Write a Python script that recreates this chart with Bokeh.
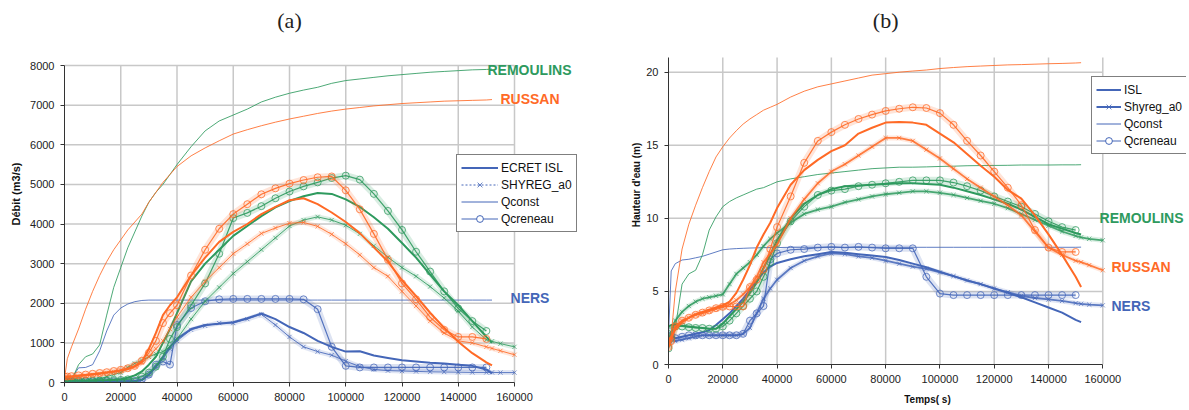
from bokeh.plotting import figure
from bokeh.layouts import row, column
from bokeh.models import Range1d, FixedTicker, BasicTickFormatter, Legend, LegendItem
from bokeh.core.properties import value
from bokeh.embed import file_html
from bokeh.resources import INLINE

N = float("nan")

# time grid (s)
T = [0, 1000, 2500, 5000, 7500, 10000, 12500, 15000, 17500, 20000, 22500, 25000, 27500,
     30000, 32500, 35000, 37500, 40000,
     45000, 50000, 55000, 60000, 65000, 70000, 75000, 80000, 85000, 90000, 95000, 100000,
     105000, 110000, 115000, 120000, 125000, 130000, 135000, 140000, 145000, 150000,
     152000, 155000, 160000]

X_TICKS = [0, 20000, 40000, 60000, 80000, 100000, 120000, 140000, 160000]
YA_TICKS = [0, 1000, 2000, 3000, 4000, 5000, 6000, 7000, 8000]
YB_TICKS = [0, 5, 10, 15, 20]

# ---------- panel (a) : Débit (m3/s) ----------
A_RUS_QCONST = [100, 600, 900, 1350, 1850, 2300, 2700, 3050, 3350, 3600, 3850, 4050, 4250, 4550, 4800, 5050, 5250, 5450,
                5720, 5920, 6100, 6270, 6380, 6480, 6570, 6650, 6720, 6790, 6850, 6900, 6940, 6980, 7010, 7040, 7060, 7080, 7100, 7110, 7120, 7130,
                7140, N, N]
A_REM_QCONST = [50, 50, 60, 450, 650, 720, 950, 1700, 2400, 2900, 3400, 3800, 4200, 4550, 4800, 5000, 5250, 5500,
                5950, 6350, 6600, 6750, 6900, 7080, 7200, 7300, 7380, 7450, 7550, 7620, 7660, 7700, 7740, 7770, 7800, 7830, 7850, 7870, 7890, 7900,
                7910, N, N]
A_NERS_QCONST = [80, 90, 100, 370, 380, 450, 800, 1300, 1700, 1880, 1980, 2040, 2070, 2080, 2080, 2080, 2080, 2080,
                 2080, 2080, 2080, 2080, 2080, 2080, 2080, 2080, 2080, 2080, 2080, 2080, 2080, 2080, 2080, 2080, 2080, 2080, 2080, 2080, 2080, 2080,
                 2080, N, N]
A_RUS_ISL = [150, 150, 150, 170, 190, 210, 230, 250, 270, 300, 340, 400, 520, 850, 1250, 1700, 1950, 2150,
             2700, 3150, 3550, 3800, 4000, 4250, 4430, 4600, 4650, 4500, 4290, 4050, 3770, 3410, 3050, 2580, 2180, 1760, 1380, 1030, 740, 510,
             430, N, N]
A_RUS_SHY = [120, 120, 130, 150, 170, 190, 210, 240, 270, 310, 350, 420, 500, 650, 850, 1050, 1350, 1650,
             2150, 2550, 2900, 3250, 3500, 3760, 3900, 4020, 4040, 3940, 3740, 3500, 3220, 2900, 2680, 2300, 1930, 1550, 1250, 1050, 1000, 900,
             860, 800, 700]
A_RUS_CRE = [150, 150, 160, 180, 200, 220, 240, 260, 290, 320, 360, 420, 550, 750, 1050, 1500, 1750, 1950,
             2700, 3350, 3880, 4250, 4500, 4750, 4900, 5020, 5110, 5180, 5200, 4850, 4370, 3750, 3100, 2500, 2100, 1650, 1330, 1150, 1150, 1100,
             N, N, N]
A_REM_ISL = [50, 50, 50, 50, 50, 50, 55, 60, 70, 80, 120, 180, 280, 450, 650, 1000, 1350, 1750,
             2550, 3000, 3350, 3700, 3950, 4200, 4420, 4580, 4700, 4780, 4760, 4620, 4430, 4170, 3880, 3520, 3150, 2720, 2300, 1950, 1550, 1150,
             1000, N, N]
A_REM_SHY = [50, 50, 50, 50, 50, 60, 90, 150, 200, 250, 380, 480, 560, 650, 720, 780, 900, 1100,
             1600, 2050, 2400, 2750, 3050, 3350, 3650, 3950, 4100, 4180, 4100, 3970, 3750, 3450, 3160, 2900, 2680, 2420, 2130, 1800, 1400, 1080,
             1040, 980, 900]
A_REM_CRE = [50, 50, 50, 50, 50, 50, 50, 55, 60, 65, 80, 100, 150, 250, 400, 650, 1100, 1400,
             1950, 2500, 3250, 4150, 4280, 4450, 4650, 4820, 4950, 5050, 5160, 5220, 5120, 4760, 4330, 3850, 3300, 2800, 2300, 1870, 1550, 1300,
             N, N, N]
A_NERS_ISL = [20, 20, 20, 20, 20, 20, 20, 20, 25, 25, 30, 30, 60, 200, 400, 650, 900, 1100,
              1350, 1450, 1480, 1520, 1620, 1740, 1600, 1400, 1250, 1050, 900, 780, 790, 680, 620, 560, 530, 500, 480, 450, 420, 330,
              230, N, N]
A_NERS_SHY = [30, 30, 30, 30, 30, 30, 30, 30, 30, 30, 35, 40, 60, 180, 380, 600, 850, 1050,
              1330, 1430, 1500, 1500, 1600, 1720, 1450, 1150, 900, 780, 690, 540, 400, 330, 300, 290, 280, 270, 265, 260, 255, 255,
              255, 250, 250]
A_NERS_CRE = [30, 30, 30, 30, 30, 30, 30, 30, 30, 30, 35, 40, 80, 200, 450, 530, 450, 1450,
              1880, 2050, 2100, 2110, 2110, 2110, 2110, 2110, 2100, 1850, 900, 420, 380, 380, 380, 380, 380, 380, 380, 380, 380, 380,
              N, N, N]

# ---------- panel (b) : Hauteur d'eau (m) ----------
B_RUS_QCONST = [1.3, 2.0, 5.0, 7.9, 9.6, 10.9, 12.1, 13.2, 14.2, 14.9, 15.5, 16.0, 16.45, 16.8, 17.1, 17.4, 17.6, 17.8,
                18.3, 18.7, 19.0, 19.2, 19.4, 19.6, 19.8, 19.9, 20.0, 20.08, 20.15, 20.25, 20.32, 20.38, 20.42, 20.46, 20.5, 20.52, 20.55, 20.58, 20.6, 20.63,
                20.65, N, N]
B_REM_QCONST = [2.5, 2.5, 2.5, 5.5, 6.2, 6.45, 7.5, 9.2, 10.1, 10.8, 11.15, 11.4, 11.6, 11.8, 12.0, 12.1, 12.3, 12.5,
                12.7, 12.85, 13.0, 13.1, 13.2, 13.3, 13.4, 13.45, 13.5, 13.5, 13.52, 13.55, 13.57, 13.6, 13.61, 13.62, 13.63, 13.65, 13.65, 13.65, 13.66, 13.66,
                13.67, N, N]
B_NERS_QCONST = [2.0, 6.4, 6.9, 7.15, 7.2, 7.3, 7.4, 7.55, 7.7, 7.85, 7.9, 7.93, 7.95, 7.97, 7.98, 8.0, 8.0, 8.0,
                 8.02, 8.02, 8.02, 8.02, 8.02, 8.02, 8.02, 8.02, 8.02, 8.02, 8.02, 8.02, 8.02, 8.02, 8.02, 8.02, 8.02, 8.02, 8.02, 8.02, 8.02, 8.02,
                 8.03, N, N]
B_RUS_ISL = [1.6, 1.9, 2.4, 2.9, 3.2, 3.45, 3.6, 3.75, 3.9, 4.05, 4.3, 4.9, 5.8, 6.8, 8.0, 8.9, 9.7, 10.7,
             12.3, 13.3, 14.0, 14.6, 15.0, 15.8, 16.2, 16.55, 16.6, 16.55, 16.4, 15.8, 15.2, 14.4, 13.6, 12.85, 11.95, 11.35, 10.2, 8.9, 7.5, 6.0,
             5.3, N, N]
B_RUS_SHY = [1.2, 1.7, 2.6, 3.0, 3.2, 3.4, 3.5, 3.65, 3.8, 3.95, 4.1, 4.4, 4.8, 5.3, 6.0, 7.0, 7.6, 8.2,
             10.0, 11.3, 12.4, 13.2, 13.7, 14.3, 14.9, 15.5, 15.5, 15.3, 14.7, 14.1, 13.4, 12.7, 12.1, 11.5, 10.9, 10.2, 9.1, 8.0, 7.5, 7.1,
             7.0, 6.8, 6.45]
B_RUS_CRE = [1.2, 1.6, 2.6, 3.0, 3.2, 3.4, 3.55, 3.7, 3.85, 3.95, 3.97, 3.97, 3.97, 5.3, 5.8, 6.5, 7.9, 9.4,
             11.5, 13.8, 15.3, 15.9, 16.4, 16.8, 17.1, 17.35, 17.5, 17.6, 17.55, 17.2, 16.4, 15.3, 14.3, 13.2, 12.1, 10.9, 9.2, 8.0, 7.7, 7.7,
             N, N, N]
B_REM_ISL = [2.6, 2.7, 2.7, 2.65, 2.6, 2.55, 2.5, 2.45, 2.45, 2.8, 3.3, 3.8, 4.3, 4.9, 5.6, 6.6, 7.5, 8.5,
             10.0, 11.0, 11.6, 12.0, 12.2, 12.25, 12.3, 12.35, 12.4, 12.4, 12.35, 12.3, 12.1, 11.85, 11.6, 11.3, 11.0, 10.6, 10.1, 9.6, 9.3, 9.0,
             8.9, N, N]
B_REM_SHY = [1.5, 2.2, 3.0, 3.6, 4.0, 4.3, 4.5, 4.6, 4.7, 4.8, 5.5, 6.2, 6.6, 7.0, 7.5, 8.1, 8.6, 9.0,
             9.7, 10.3, 10.6, 10.8, 11.1, 11.3, 11.5, 11.65, 11.75, 11.85, 11.85, 11.75, 11.6, 11.4, 11.2, 11.0, 10.7, 10.3, 9.9, 9.5, 9.1, 8.8,
             8.7, 8.6, 8.5]
B_REM_CRE = [1.1, 1.8, 2.6, 2.6, 2.55, 2.5, 2.5, 2.45, 2.45, 2.6, 3.0, 3.5, 4.0, 4.5, 5.0, 6.0, 7.0, 8.3,
             9.8, 10.8, 11.6, 11.9, 12.0, 12.2, 12.3, 12.4, 12.5, 12.6, 12.6, 12.6, 12.45, 12.2, 11.9, 11.5, 11.15, 10.8, 10.3, 9.8, 9.4, 9.2,
             N, N, N]
B_NERS_ISL = [1.8, 2.0, 1.8, 1.9, 2.0, 2.1, 2.2, 2.35, 2.7, 3.1, 3.5, 4.0, 4.5, 5.1, 5.7, 6.3, 6.7, 6.95,
              7.2, 7.4, 7.55, 7.7, 7.65, 7.55, 7.45, 7.35, 7.15, 6.9, 6.65, 6.35, 6.05, 5.75, 5.5, 5.2, 4.9, 4.6, 4.25, 3.9, 3.55, 3.05,
              2.9, N, N]
B_NERS_SHY = [1.5, 2.0, 1.6, 1.7, 1.8, 1.9, 2.0, 2.0, 2.0, 2.0, 2.0, 2.0, 2.1, 2.5, 3.5, 4.5, 5.2, 5.8,
              6.6, 7.1, 7.4, 7.6, 7.55, 7.4, 7.3, 7.1, 6.9, 6.7, 6.55, 6.3, 6.05, 5.75, 5.5, 5.2, 4.95, 4.7, 4.55, 4.45, 4.35, 4.2,
              4.15, 4.1, 4.05]
B_NERS_CRE = [1.6, 2.0, 1.8, 1.9, 2.0, 2.0, 2.0, 2.0, 2.0, 2.0, 2.0, 2.0, 2.1, 3.0, 3.5, 4.0, 7.2, 7.6,
              7.85, 7.9, 8.0, 8.05, 8.0, 8.05, 8.0, 7.95, 7.95, 7.95, 6.0, 4.85, 4.75, 4.75, 4.75, 4.75, 4.75, 4.75, 4.75, 4.75, 4.75, 4.75,
              N, N, N]

BLUE = "#4466b8"
ORANGE = "#ff6a26"
GREEN = "#2e9a5e"
GRID = "#c8c8c8"
FONT = "Liberation Sans"


def style_axes(p, xb, yb, yticks, ylabel, xlabel, ystand, xstand, ylab_size):
    for ax in (p.xaxis[0], p.yaxis[0]):
        ax.axis_line_color = "#333333"
        ax.axis_line_width = 1
        ax.major_tick_out = 4
        ax.major_tick_in = 0
        ax.minor_tick_out = 0
        ax.minor_tick_in = 0
        ax.major_tick_line_color = "#333333"
        ax.major_label_text_font = FONT
        ax.major_label_text_font_size = "11px"
        ax.major_label_text_color = "#222222"
        ax.major_label_standoff = 6
        ax.axis_label_text_font = FONT
        ax.axis_label_text_font_style = "bold"
        ax.axis_label_text_color = "#111111"
        ax.formatter = BasicTickFormatter(use_scientific=False)
    p.xaxis[0].bounds = xb
    p.yaxis[0].bounds = yb
    p.xaxis[0].ticker = FixedTicker(ticks=X_TICKS)
    p.yaxis[0].ticker = FixedTicker(ticks=yticks)
    p.yaxis[0].axis_label = ylabel
    p.yaxis[0].axis_label_text_font_size = ylab_size
    p.yaxis[0].axis_label_standoff = ystand
    if xlabel:
        p.xaxis[0].axis_label = xlabel
        p.xaxis[0].axis_label_text_font_size = "10px"
        p.xaxis[0].axis_label_standoff = xstand
    p.xgrid.visible = False
    p.ygrid.visible = False


def draw_grid(p, ytop, yticks):
    xs = X_TICKS[1:]
    p.segment(x0=xs, y0=[0] * len(xs), x1=xs, y1=[ytop] * len(xs), line_color=GRID, line_width=1.5)
    ys = yticks[1:]
    p.segment(x0=[0] * len(ys), y0=ys, x1=[X_TICKS[-1]] * len(ys), y1=ys, line_color=GRID, line_width=1.5)


def draw_station(p, c, qconst, isl, shy, cre, shy_w):
    p.line(T, qconst, line_color=c, line_width=1, line_alpha=0.85)
    # Qcreneau: hollow circles along the line
    p.line(T, cre, line_color=c, line_width=7, line_alpha=0.18, line_join="round")
    p.line(T, cre, line_color=c, line_width=1.2, line_alpha=0.9)
    p.scatter(T, cre, marker="circle", size=7, fill_color=None, line_color=c, line_alpha=0.75, line_width=1)
    # SHYREG: crosses along the line
    p.line(T, shy, line_color=c, line_width=5, line_alpha=0.16, line_join="round")
    p.line(T, shy, line_color=c, line_width=shy_w, line_alpha=0.85)
    p.scatter(T, shy, marker="x", size=6, line_color=c, line_alpha=0.65, line_width=1)
    # ISL / ECRET ISL
    p.line(T, isl, line_color=c, line_width=2, line_join="round")


def make_legend(p, labels, loc, gw, shy_dash, shy_w, fsize):
    nx, ny = [N], [N]
    r_isl = p.line(x=nx, y=ny, line_color=BLUE, line_width=2)
    r_shy_l = p.line(x=nx, y=ny, line_color=BLUE, line_width=shy_w, line_dash=shy_dash)
    r_shy_m = p.scatter(x=nx, y=ny, marker="x", size=6, line_color=BLUE, line_alpha=0.8)
    r_qc = p.line(x=nx, y=ny, line_color=BLUE, line_width=1)
    r_cr_l = p.line(x=nx, y=ny, line_color=BLUE, line_width=1)
    r_cr_m = p.scatter(x=nx, y=ny, marker="circle", size=7, fill_color="white", line_color=BLUE)
    items = [LegendItem(label=labels[0], renderers=[r_isl]),
             LegendItem(label=labels[1], renderers=[r_shy_l, r_shy_m]),
             LegendItem(label=labels[2], renderers=[r_qc]),
             LegendItem(label=labels[3], renderers=[r_cr_l, r_cr_m])]
    lg = Legend(items=items, location=loc)
    lg.border_line_color = "black"
    lg.border_line_width = 1
    lg.background_fill_color = "white"
    lg.background_fill_alpha = 1
    lg.label_text_font = FONT
    lg.label_text_font_size = fsize
    lg.label_text_color = "#111111"
    lg.glyph_width = gw
    lg.glyph_height = 17
    lg.label_height = 17
    lg.spacing = 0
    lg.padding = 4
    lg.margin = 0
    lg.label_standoff = 3
    p.add_layout(lg)


def labels(p, xs, ys, texts, colors):
    p.text(x=xs, y=ys, text=texts, text_color=colors, text_font=value(FONT), text_font_style="bold",
           text_font_size="14px", text_align="left", text_baseline="middle")


# ----- figure (a)
WA, H = 595, 410
LA, RA, TA, BA = 64, 5, 5, 28
fwa, fha = WA - LA - RA, H - TA - BA
XA_END = 160000 * fwa / 450.0
YA_TOP = 8000 * fha / 317.0
pa = figure(width=WA, height=H, output_backend="svg", toolbar_location=None,
            x_range=Range1d(0, XA_END), y_range=Range1d(0, YA_TOP),
            min_border_left=LA, min_border_right=RA, min_border_top=TA, min_border_bottom=BA)
pa.outline_line_color = None
pa.background_fill_color = "white"
pa.border_fill_color = "white"
style_axes(pa, (0, 160000), (0, 8000), YA_TICKS, "Débit (m3/s)", None, 5, 0, "11px")
draw_grid(pa, 8000, YA_TICKS)
draw_station(pa, BLUE, A_NERS_QCONST, A_NERS_ISL, A_NERS_SHY, A_NERS_CRE, 1)
draw_station(pa, GREEN, A_REM_QCONST, A_REM_ISL, A_REM_SHY, A_REM_CRE, 1)
draw_station(pa, ORANGE, A_RUS_QCONST, A_RUS_ISL, A_RUS_SHY, A_RUS_CRE, 1)
labels(pa, [150400, 155000, 158600], [7874, 7167, 2145], ["REMOULINS", "RUSSAN", "NERS"], [GREEN, ORANGE, BLUE])
pa.text(x=[80000], y=[8000 * (H - BA - 20) / 317.0], text=["(a)"], text_color="#222222",
        text_font=value("Liberation Serif"), text_font_size="22px", text_align="center", text_baseline="middle")
make_legend(pa, ["ECRET ISL", "SHYREG_a0", "Qconst", "Qcreneau"], (392, 150), 37, "2 2", 1, "12px")

# ----- figure (b)
WB = 594
LB, RB, TB, BB = 73, 3, 5, 46
fwb, fhb = WB - LB - RB, H - TB - BB
XB_END = 160000 * fwb / 434.3
YB_TOP = 20 * fhb / 292.3
pb = figure(width=WB, height=H, output_backend="svg", toolbar_location=None,
            x_range=Range1d(0, XB_END), y_range=Range1d(0, YB_TOP),
            min_border_left=LB, min_border_right=RB, min_border_top=TB, min_border_bottom=BB)
pb.outline_line_color = None
pb.background_fill_color = "white"
pb.border_fill_color = "white"
style_axes(pb, (0, 160000), (0, 21), YB_TICKS, "Hauteur d'eau (m)", "Temps( s)", 1, 8, "10px")
draw_grid(pb, 21, YB_TICKS)
draw_station(pb, BLUE, B_NERS_QCONST, B_NERS_ISL, B_NERS_SHY, B_NERS_CRE, 1.8)
draw_station(pb, GREEN, B_REM_QCONST, B_REM_ISL, B_REM_SHY, B_REM_CRE, 1.8)
draw_station(pb, ORANGE, B_RUS_QCONST, B_RUS_ISL, B_RUS_SHY, B_RUS_CRE, 1.8)
labels(pb, [158800, 163200, 163200], [9.99, 6.64, 3.97], ["REMOULINS", "RUSSAN", "NERS"], [GREEN, ORANGE, BLUE])
pb.text(x=[80000], y=[20 * (H - BB - 20) / 292.3], text=["(b)"], text_color="#222222",
        text_font=value("Liberation Serif"), text_font_size="22px", text_align="center", text_baseline="middle")
make_legend(pb, ["ISL", "Shyreg_a0", "Qconst", "Qcreneau"], (423, 210), 25, "solid", 2, "12px")

# each figure in its own column so that their frames are not aligned with each other
layout = row(column(pa), column(pb))
open("out.html", "w").write(file_html(layout, INLINE))
